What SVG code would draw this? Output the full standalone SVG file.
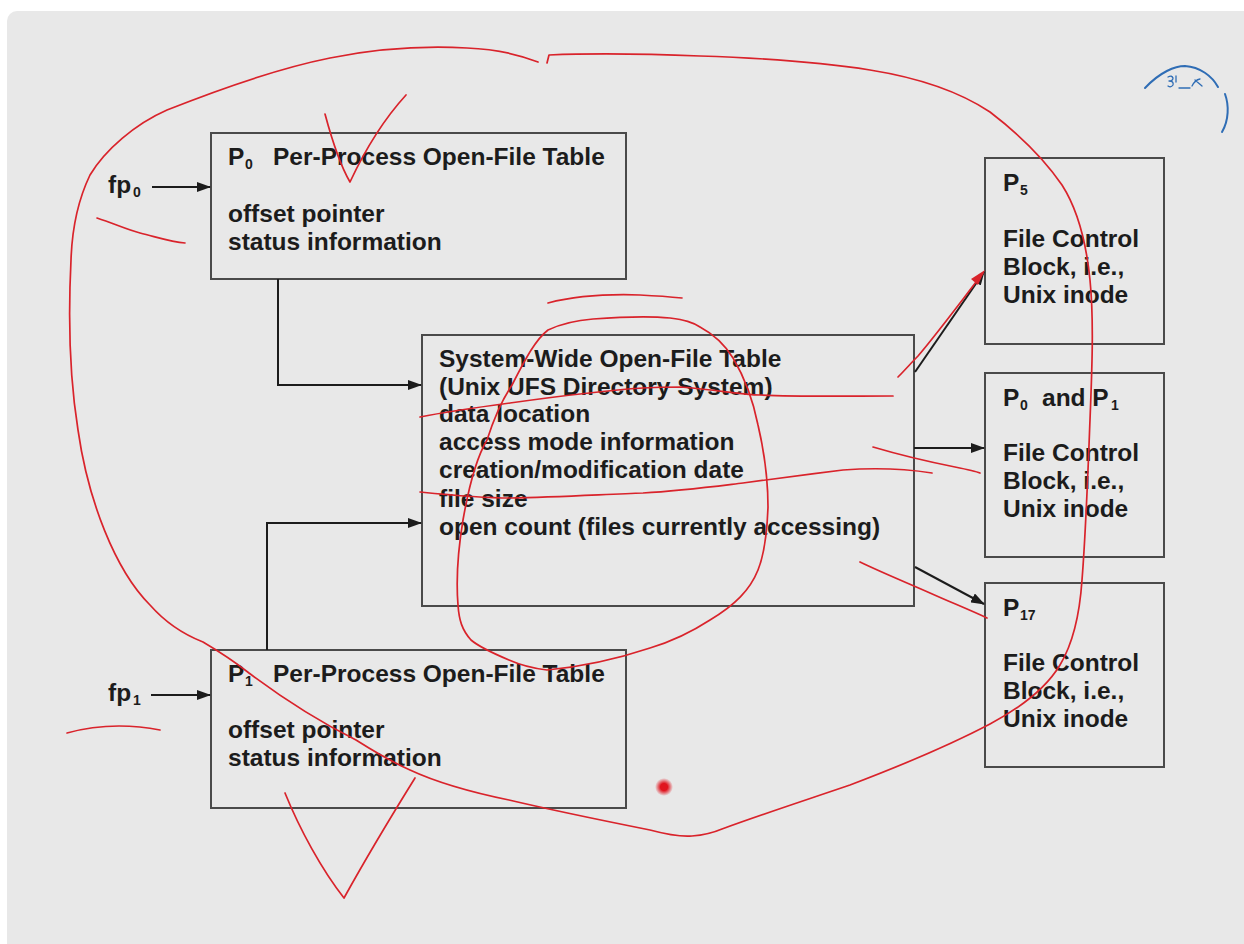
<svg xmlns="http://www.w3.org/2000/svg" width="1244" height="944" viewBox="0 0 1244 944">
<defs>
<style>
.box{fill:none;stroke:#4a4a4a;stroke-width:2}
.t{font-family:"Liberation Sans",Arial,sans-serif;font-weight:bold;font-size:24.5px;fill:#1c1c1c}
.sub{font-family:"Liberation Sans",Arial,sans-serif;font-weight:bold;font-size:14px;fill:#1c1c1c}
.conn{fill:none;stroke:#1c1c1c;stroke-width:2}
.red{fill:none;stroke:#d9232b;stroke-width:1.7;stroke-linecap:round;stroke-linejoin:round}
.blue{fill:none;stroke:#2f6db5;stroke-width:2;stroke-linecap:round;stroke-linejoin:round}
</style>
<marker id="arr" viewBox="0 0 14 10" refX="13" refY="5" markerWidth="14" markerHeight="10" markerUnits="userSpaceOnUse" orient="auto">
<path d="M0,0 L14,5 L0,10 Z" fill="#1c1c1c"/>
</marker>
<radialGradient id="dot">
<stop offset="0" stop-color="#e0151f"/>
<stop offset="0.4" stop-color="#e0151f"/>
<stop offset="1" stop-color="#e0151f" stop-opacity="0"/>
</radialGradient>
</defs>
<rect x="0" y="0" width="1244" height="944" fill="#ffffff"/>
<rect x="7" y="11" width="1250" height="950" rx="10" fill="#e8e8e8"/>

<g id="fp0">
<text class="t" x="108" y="193">fp</text><text class="sub" x="133" y="197">0</text>
</g>
<g id="fp1">
<text class="t" x="108" y="701">fp</text><text class="sub" x="133" y="705">1</text>
</g>

<g id="p0-table">
<rect class="box" x="211" y="133" width="415" height="146"/>
<text class="t" x="228" y="165">P</text><text class="sub" x="245" y="169">0</text>
<text class="t" x="273" y="165">Per-Process Open-File Table</text>
<text class="t" x="228" y="222">offset pointer</text>
<text class="t" x="228" y="250">status information</text>
</g>

<g id="p1-table">
<rect class="box" x="211" y="650" width="415" height="158"/>
<text class="t" x="228" y="682">P</text><text class="sub" x="245" y="686">1</text>
<text class="t" x="273" y="682">Per-Process Open-File Table</text>
<text class="t" x="228" y="738">offset pointer</text>
<text class="t" x="228" y="766">status information</text>
</g>

<g id="system-table">
<rect class="box" x="422" y="335" width="492" height="271"/>
<text class="t" x="439" y="367">System-Wide Open-File Table</text>
<text class="t" x="439" y="395">(Unix UFS Directory System)</text>
<text class="t" x="439" y="422">data location</text>
<text class="t" x="439" y="450">access mode information</text>
<text class="t" x="439" y="478">creation/modification date</text>
<text class="t" x="439" y="507">file size</text>
<text class="t" x="439" y="535">open count (files currently accessing)</text>
</g>

<g id="fcb-p5">
<rect class="box" x="985" y="158" width="179" height="186"/>
<text class="t" x="1003" y="191">P</text><text class="sub" x="1020" y="195">5</text>
<text class="t" x="1003" y="247">File Control</text>
<text class="t" x="1003" y="275">Block, i.e.,</text>
<text class="t" x="1003" y="303">Unix inode</text>
</g>

<g id="fcb-p0p1">
<rect class="box" x="985" y="373" width="179" height="184"/>
<text class="t" x="1003" y="406">P</text><text class="sub" x="1020" y="410">0</text>
<text class="t" x="1042" y="406">and P</text><text class="sub" x="1111" y="410">1</text>
<text class="t" x="1003" y="461">File Control</text>
<text class="t" x="1003" y="489">Block, i.e.,</text>
<text class="t" x="1003" y="517">Unix inode</text>
</g>

<g id="fcb-p17">
<rect class="box" x="985" y="583" width="179" height="184"/>
<text class="t" x="1003" y="616">P</text><text class="sub" x="1020" y="620">17</text>
<text class="t" x="1003" y="671">File Control</text>
<text class="t" x="1003" y="699">Block, i.e.,</text>
<text class="t" x="1003" y="727">Unix inode</text>
</g>

<g id="connectors">
<path class="conn" d="M152,187 H210" marker-end="url(#arr)"/>
<path class="conn" d="M151,695 H210" marker-end="url(#arr)"/>
<path class="conn" d="M278,279 V385 H421" marker-end="url(#arr)"/>
<path class="conn" d="M267,650 V523 H421" marker-end="url(#arr)"/>
<path class="conn" d="M915,372 L984,272" marker-end="url(#arr)"/>
<path class="conn" d="M914,448 H984" marker-end="url(#arr)"/>
<path class="conn" d="M915,567 L984,604" marker-end="url(#arr)"/>
</g>

<g id="annotations">
<path class="red" d="M538,62 C520,55 495,49 467,48 C430,46 380,48 330,58 C290,66 230,85 167,110 C135,124 105,150 90,175 C78,200 72,230 71,260 C68,320 70,380 78,430 C88,500 115,570 150,605 C165,622 185,635 203,642 C220,652 235,662 249,673 C285,700 320,722 356,740 C375,752 392,762 410,770 C440,784 475,793 509,800 C560,812 610,822 650,830 C665,834 680,837 692,836 C705,835 715,832 722,829 C760,815 800,802 850,785 C900,766 950,745 990,724 C1020,708 1045,690 1060,665 C1075,640 1080,610 1082,580 C1086,530 1088,470 1090,420 C1092,370 1094,320 1090,280 C1086,240 1078,210 1062,185 C1045,160 1020,135 990,112 C960,92 920,78 870,70 C820,62 760,58 700,56 C650,54 600,53 549,55 L547,63"/>
<path class="red" d="M325,114 C332,140 340,165 350,182 C365,150 385,118 406,95"/>
<path class="red" d="M97,218 C115,224 128,230 140,233 C160,238 172,242 185,243"/>
<path class="red" d="M67,733 C85,728 102,726 119,726 C135,726 150,728 160,730"/>
<path class="red" d="M285,793 C300,830 322,870 344,898 C365,860 392,815 415,778"/>
<path class="red" d="M548,303 C575,296 610,294 640,295 C660,296 672,297 682,298"/>
<path class="red" d="M700,327 C715,335 725,345 733,358 C745,378 753,400 758,425 C765,455 768,480 768,507 C767,535 764,555 758,570 C750,590 735,605 710,620 C690,633 670,642 650,648 C620,658 590,666 547,670 C530,668 518,664 509,660 C490,652 478,646 471,640 C462,630 459,620 458,605 C456,580 458,550 463,520 C470,480 478,455 487,440 C495,415 502,400 512,385 C525,360 535,340 548,330 C565,322 580,320 593,319 C620,317 650,316 670,318 C685,320 692,322 700,327"/>
<path class="red" d="M420,417 C450,411 480,407 510,403 C560,396 610,390 643,388 C660,387 670,387 680,387 C720,390 740,395 760,395 C800,397 850,396 893,396"/>
<path class="red" d="M420,492 C450,495 480,498 510,498 C560,497 610,494 643,493 C680,491 710,487 743,483 C780,478 810,474 843,470 C870,468 900,468 932,473"/>
<path class="red" d="M873,447 C900,455 930,462 955,467 C965,469 975,471 980,473"/>
<path class="red" d="M860,562 C885,574 910,584 930,593 C950,602 970,610 987,618"/>
<path class="red" d="M898,377 C905,370 912,362 918,356 C940,330 962,300 983,273"/>
<path d="M985,270 L978,285 L971,279 Z" fill="#d9232b"/>
<circle cx="664" cy="787" r="9" fill="url(#dot)"/>
<path class="blue" d="M1145,88 C1160,72 1175,66 1185,66 C1200,67 1212,76 1218,87"/>
<path class="blue" d="M1225,94 C1229,105 1229,120 1222,132"/>
<path class="blue" style="stroke-width:1.3" d="M1168,77 q4,-2 5,1 q0,3 -4,3 q5,0 4,4 q-2,3 -5,1 M1176,76 v6 M1179,88 h11 M1192,86 q3,-6 8,-7 M1195,80 l7,6"/>
</g>
</svg>
